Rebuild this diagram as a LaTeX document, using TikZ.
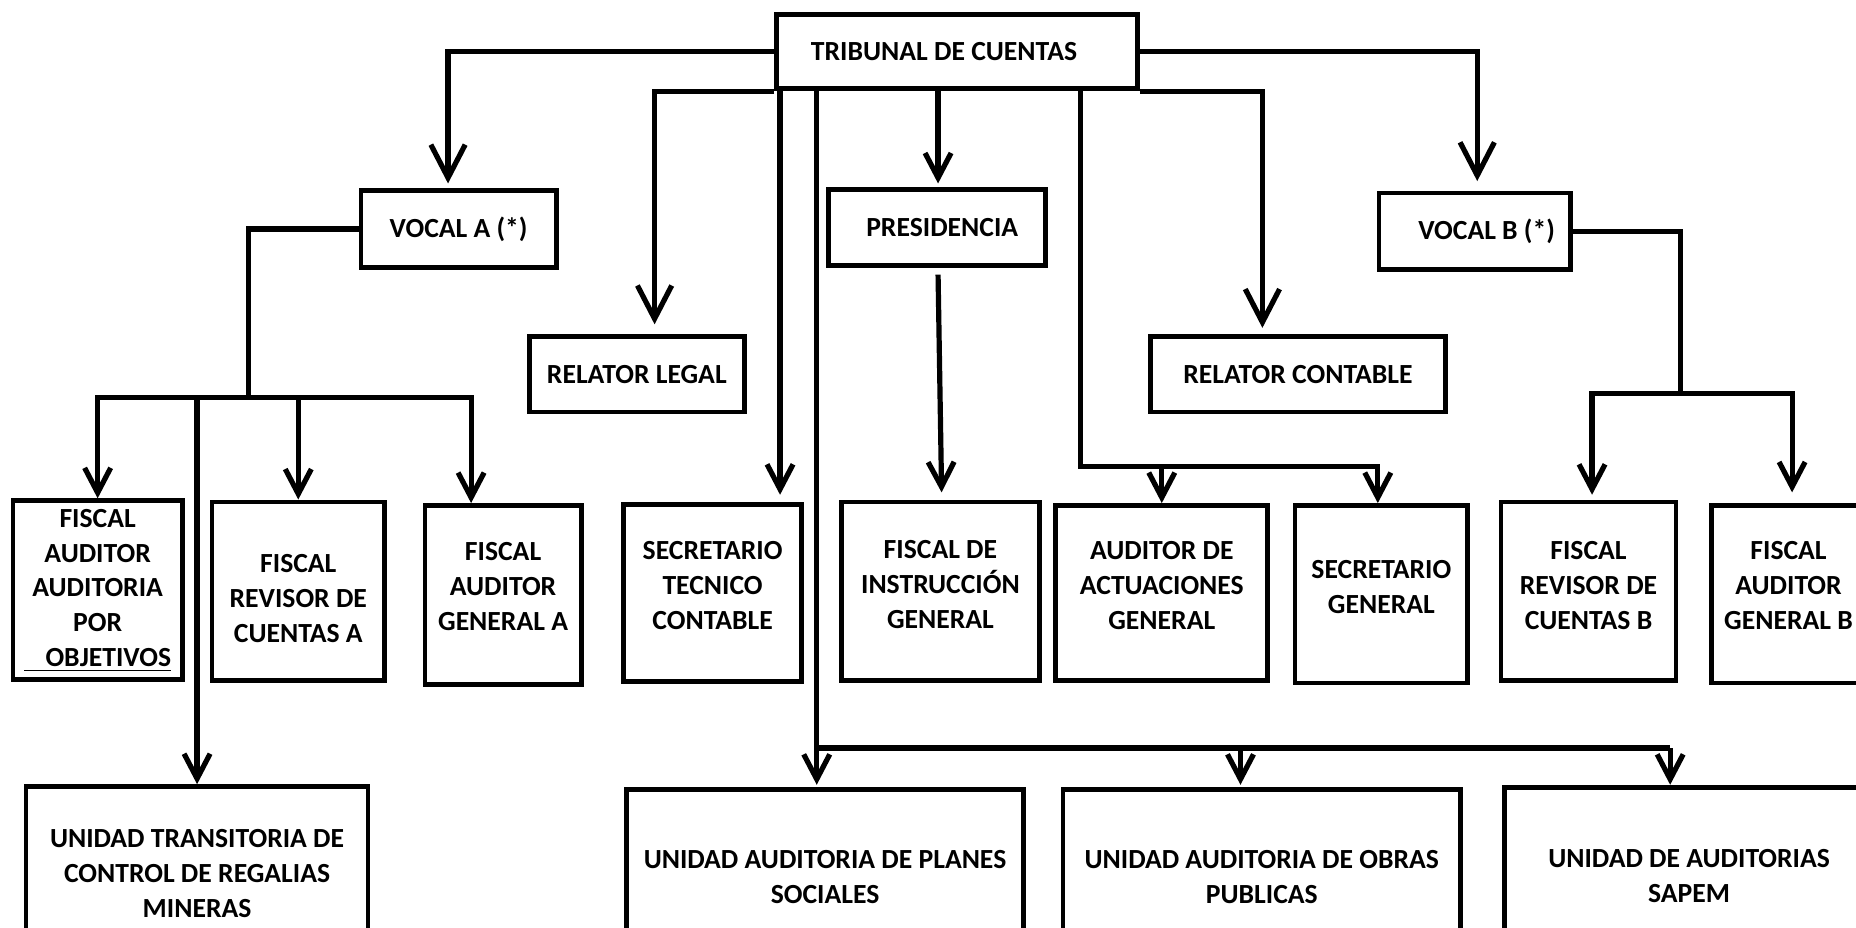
\documentclass[tikz,border=0pt]{standalone}
\usepackage{fontspec}
\setmainfont{Carlito}
\usetikzlibrary{positioning, arrows.meta, calc}

\begin{document}
\begin{tikzpicture}[
        x=0.02cm, y=-0.02cm,
        box/.style={rectangle, draw, line width=2.3pt, fill=white, align=center, inner sep=0pt, font=\fontsize{13.3}{16.8}\selectfont\bfseries},
        txt/.style={align=center, inner sep=0pt, font=\fontsize{13.3}{16.8}\selectfont\bfseries},
        conn/.style={line width=2.5pt},
        arr/.style={conn, -{Straight Barb[length=0.42cm, width=0.44cm]}},
        bigarr/.style={conn, -{Straight Barb[length=0.56cm, width=0.58cm]}}
    ]
    \useasboundingbox (0,0) rectangle (1568,784);
    \clip (0,0) rectangle (1568,784);

    % top levels
    \node[box, minimum width=6.1cm, minimum height=1.26cm] (trib) at (808.5,43.5) {TRIBUNAL DE CUENTAS\hspace*{0.44cm}};
    \node[box, minimum width=3.3cm, minimum height=1.3cm] (vocA) at (387.5,193.5) {VOCAL A (*)};
    \node[box, minimum width=3.66cm, minimum height=1.28cm] (pres) at (791.5,192) {\hspace*{0.18cm}PRESIDENCIA};
    \node[box, minimum width=3.24cm, minimum height=1.3cm] (vocB) at (1246,195.5) {\hspace*{0.4cm}VOCAL B (*)};
    \node[box, minimum width=3.64cm, minimum height=1.28cm] (rlegal) at (538,316) {RELATOR LEGAL};
    \node[box, minimum width=4.98cm, minimum height=1.28cm] (rcont) at (1096.5,316) {RELATOR CONTABLE};

    % fiscales y secretarios
    \node[box, minimum width=2.86cm, minimum height=3.02cm] (fao) at (82.5,498.5) {FISCAL\\AUDITOR\\AUDITORIA\\POR\\\underline{\hspace*{0.36cm}OBJETIVOS}};
    \node[box, minimum width=2.92cm, minimum height=3.02cm, label={[txt, yshift=-3.4pt]center:{FISCAL\\REVISOR DE\\CUENTAS A}}] (frA) at (252,499.5) {};
    \node[box, minimum width=2.64cm, minimum height=3.02cm, label={[txt, yshift=4pt]center:{FISCAL\\AUDITOR\\GENERAL A}}] (fgA) at (425,502.5) {};
    \node[box, minimum width=3.0cm, minimum height=3.0cm, label={[txt, yshift=3.4pt]center:{SECRETARIO\\TECNICO\\CONTABLE}}] (stc) at (602,501) {};
    \node[box, minimum width=3.34cm, minimum height=3.02cm, label={[txt, yshift=3.4pt]center:{FISCAL DE\\INSTRUCCIÓN\\GENERAL}}] (fig) at (794.5,499.5) {};
    \node[box, minimum width=3.58cm, minimum height=2.96cm, label={[txt, yshift=3.4pt]center:{AUDITOR DE\\ACTUACIONES\\GENERAL}}] (aag) at (981.5,501) {};
    \node[box, minimum width=2.92cm, minimum height=3.0cm, label={[txt, yshift=3.4pt]center:{SECRETARIO\\GENERAL}}] (sg) at (1167,502) {};
    \node[box, minimum width=2.96cm, minimum height=3.02cm, label={[txt, yshift=2.8pt]center:{FISCAL\\REVISOR DE\\CUENTAS B}}] (frB) at (1342,499.5) {};
    \node[box, minimum width=2.6cm, minimum height=3.0cm, label={[txt, yshift=4pt]center:{FISCAL\\AUDITOR\\GENERAL B}}] (fgB) at (1511,502) {};

    % unidades
    \node[box, minimum width=5.78cm, minimum height=2.94cm] (utr) at (166.5,738) {UNIDAD TRANSITORIA DE\\CONTROL DE REGALIAS\\MINERAS};
    \node[box, minimum width=6.72cm, minimum height=2.96cm] (ups) at (697,741) {UNIDAD AUDITORIA DE PLANES\\SOCIALES};
    \node[box, minimum width=6.72cm, minimum height=2.96cm] (uop) at (1066,741) {UNIDAD AUDITORIA DE OBRAS\\PUBLICAS};
    \node[box, minimum width=6.24cm, minimum height=3.0cm] (usa) at (1427,740) {UNIDAD DE AUDITORIAS\\SAPEM};

    % drop points and buses
    \coordinate (dstc) at ($(stc.north)+(57,-6)$);
    \coordinate (bus) at ($(ups.north)+(-7,-33)$);
    \coordinate (upsD) at ($(ups.north)+(-7,-2)$);
    \coordinate (uopD) at ($(uop.north)+(-18,-2)$);
    \coordinate (usaD) at ($(usa.north)+(-16,0)$);
    \coordinate (busS) at ($(aag.north)+(-68.5,-31)$);
    \coordinate (barA) at ($(vocA.west)+(-93,142)$);
    \coordinate (barB) at ($(vocB.east)+(91,137)$);

    % from the tribunal
    \draw[bigarr] (trib.west) -| ($(vocA.north)+(-9,-4)$);
    \draw[bigarr] (trib.east) -| ($(vocB.north)+(2,-8)$);
    \draw[bigarr] (trib.south west) -| ($(rlegal.north)+(15,-8)$);
    \draw[bigarr] (trib.south east) -| ($(rcont.north)+(-30,-5)$);
    \draw[arr] (dstc |- trib.south) -- (dstc);
    \draw[arr] ($(pres.north |- trib.south)+(1,0)$) -- ($(pres.north)+(1,-3)$);
    \draw[arr] ($(pres.south)+(1,6)$) -- ($(fig.north)+(1,-6)$);
    \draw[arr] (busS |- trib.south) -- (busS) -| (aag.north);
    \draw[arr] (busS) -| ($(sg.north)+(-3,0)$);
    \draw[conn] (bus |- trib.south) -- (bus) -- (bus -| usaD);
    \foreach \d in {upsD, uopD, usaD}
        \draw[arr] (bus -| \d) -- (\d);

    % vocal A
    \draw[conn] (vocA.west) -| (barA);
    \draw[arr] (barA) -| (fao.north);
    \draw[arr] (barA) -| ($(fgA.north)+(-27,0)$);
    \draw[arr] (barA -| frA.north) -- (frA.north);
    \draw[arr] (barA -| utr.north) -- (utr.north);

    % vocal B
    \draw[conn] (vocB.east) -| (barB);
    \draw[arr] (barB) -| ($(frB.north)+(3,-4)$);
    \draw[arr] (barB) -| ($(fgB.north)+(3,-9)$);
\end{tikzpicture}
\end{document}
